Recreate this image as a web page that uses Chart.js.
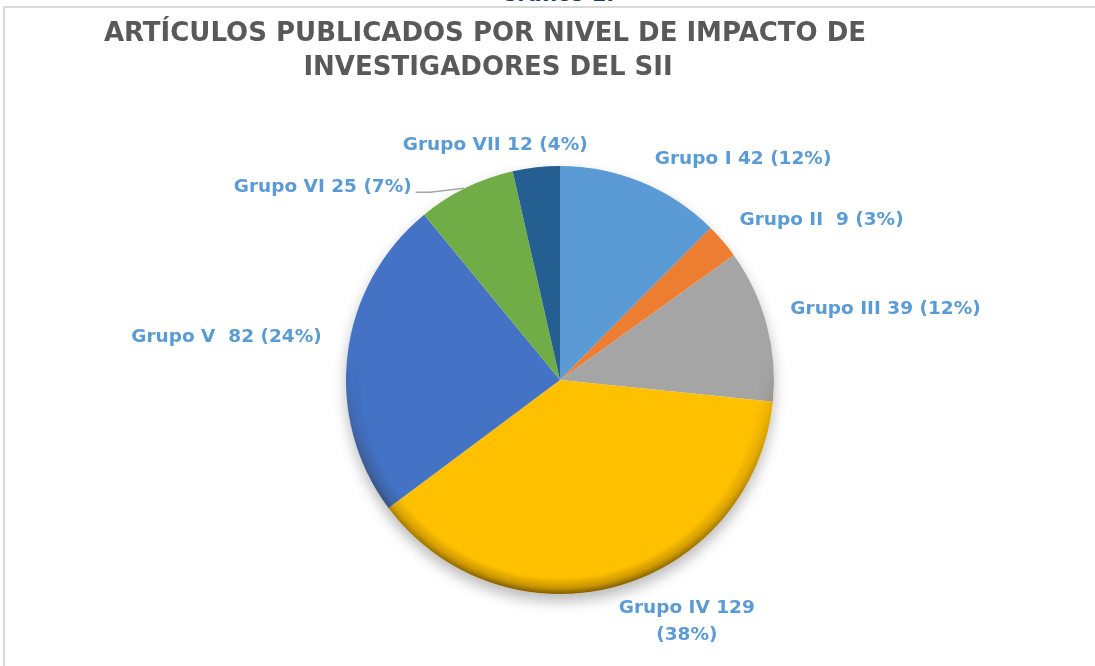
<!DOCTYPE html>
<html>
<head>
<meta charset="utf-8">
<script src="https://cdn.jsdelivr.net/npm/chart.js@4.4.0/dist/chart.umd.min.js"></script>
<style>
  html, body { margin: 0; padding: 0; background: #fff; overflow: hidden; }
  #wrap { position: relative; width: 1095px; height: 666px; overflow: hidden; }
  #frame { position: absolute; left: 3px; top: 6px; width: 1300px; height: 800px;
           border-top: 2px solid #d9d9d9; border-left: 2px solid #d9d9d9; }
  #caption { position: absolute; top: -18px; left: 500px; font: bold 21px "DejaVu Sans", sans-serif; color: #1f3864; }
  canvas { position: absolute; left: 0; top: 0; }
</style>
</head>
<body>
<div id="wrap">
  <div id="caption">Gráfico 1.</div>
  <div id="frame"></div>
  <canvas id="chart" width="1095" height="666"></canvas>
</div>
<script>
// ── Data ──
const categories = ['Grupo I', 'Grupo II ', 'Grupo III', 'Grupo IV', 'Grupo V ', 'Grupo VI', 'Grupo VII'];
const articles = [42, 9, 39, 129, 82, 25, 12];
const sliceColors = ['#5b9bd5', '#ed7d31', '#a5a5a5', '#ffc000', '#4472c4', '#70ad47', '#255e91'];
const titleLines = ['ARTÍCULOS PUBLICADOS POR NIVEL DE IMPACTO DE', 'INVESTIGADORES DEL SII'];

// label nudges (layout only) relative to the anchor outside each slice
const labelNudge = [[8, -10], [6, -12], [10, -12], [-2, 8], [-12, -15], [-48, 12], [53, -8]];

const total = articles.reduce((a, b) => a + b, 0);
const LABEL_FONT = 'bold 18.5px "DejaVu Sans", sans-serif';

// ── Shadow + bevel around the pie ──
const pieDepth = {
    id: 'pieDepth',
    beforeDatasetsDraw(chart) {
        const arc = chart.getDatasetMeta(0).data[0];
        const ctx = chart.ctx;
        ctx.save();
        ctx.shadowColor = 'rgba(0,0,0,0.28)';
        ctx.shadowBlur = 14;
        ctx.shadowOffsetY = 7;
        ctx.beginPath();
        ctx.arc(arc.x, arc.y, arc.outerRadius, 0, Math.PI * 2);
        ctx.fillStyle = '#fff';
        ctx.fill();
        ctx.restore();
    },
    afterDatasetsDraw(chart) {
        const arc = chart.getDatasetMeta(0).data[0];
        const cx = arc.x, cy = arc.y, r = arc.outerRadius;
        const off = document.createElement('canvas');
        off.width = chart.width; off.height = chart.height;
        const o = off.getContext('2d');
        const rg = o.createRadialGradient(cx, cy, r - 16, cx, cy, r);
        rg.addColorStop(0, 'rgba(0,0,0,0)');
        rg.addColorStop(0.6, 'rgba(40,25,0,0.25)');
        rg.addColorStop(1, 'rgba(40,25,0,0.6)');
        o.beginPath();
        o.arc(cx, cy, r, 0, Math.PI * 2);
        o.fillStyle = rg;
        o.fill();
        o.globalCompositeOperation = 'destination-in';
        const lg = o.createLinearGradient(0, cy - r * 0.1, 0, cy + r);
        lg.addColorStop(0, 'rgba(0,0,0,0)');
        lg.addColorStop(1, 'rgba(0,0,0,1)');
        o.fillStyle = lg;
        o.fillRect(0, 0, off.width, off.height);
        chart.ctx.drawImage(off, 0, 0);
    }
};

// ── Title + outside labels ──
const pieText = {
    id: 'pieText',
    afterDraw(chart) {
        const ctx = chart.ctx;
        ctx.save();
        ctx.fillStyle = '#595959';
        ctx.font = 'bold 26px "DejaVu Sans", sans-serif';
        ctx.textAlign = 'center';
        ctx.textBaseline = 'middle';
        ctx.fillText(titleLines[0], 485, 34);
        ctx.fillText(titleLines[1], 488, 68);

        ctx.font = LABEL_FONT;
        ctx.fillStyle = '#5b9bd5';
        const meta = chart.getDatasetMeta(0);
        meta.data.forEach((arc, i) => {
            const mid = (arc.startAngle + arc.endAngle) / 2;
            const rr = arc.outerRadius + 14;
            const ax = arc.x + Math.cos(mid) * rr + labelNudge[i][0];
            const ay = arc.y + Math.sin(mid) * rr + labelNudge[i][1];
            const pct = Math.round(articles[i] / total * 100);
            const right = Math.cos(mid) >= 0;
            ctx.textAlign = right ? 'left' : 'right';
            if (i === 3) {
                ctx.textAlign = 'center';
                const t1 = categories[i] + ' ' + articles[i];
                const w = ctx.measureText(t1).width;
                ctx.fillText(t1, ax + w / 2, ay);
                ctx.fillText('(' + pct + '%)', ax + w / 2, ay + 27);
            } else {
                ctx.fillText(categories[i] + ' ' + articles[i] + ' (' + pct + '%)', ax, ay);
            }
            if (i === 5) {
                // leader line
                ctx.strokeStyle = '#a6a6a6';
                ctx.lineWidth = 1.5;
                ctx.beginPath();
                ctx.moveTo(ax + 4, ay + 5);
                ctx.lineTo(ax + 18, ay + 5);
                ctx.lineTo(arc.x + Math.cos(mid) * (arc.outerRadius + 4), arc.y + Math.sin(mid) * (arc.outerRadius + 4) + 4);
                ctx.stroke();
            }
        });
        ctx.restore();
    }
};

new Chart(document.getElementById('chart').getContext('2d'), {
    type: 'pie',
    data: {
        labels: categories,
        datasets: [{ data: articles, backgroundColor: sliceColors, borderWidth: 0 }]
    },
    options: {
        responsive: false, animation: false,
        layout: { padding: { left: 346, right: 321, top: 166, bottom: 72 } },
        plugins: { legend: { display: false }, tooltip: { enabled: false }, title: { display: false } }
    },
    plugins: [pieDepth, pieText]
});
</script>
</body>
</html>
